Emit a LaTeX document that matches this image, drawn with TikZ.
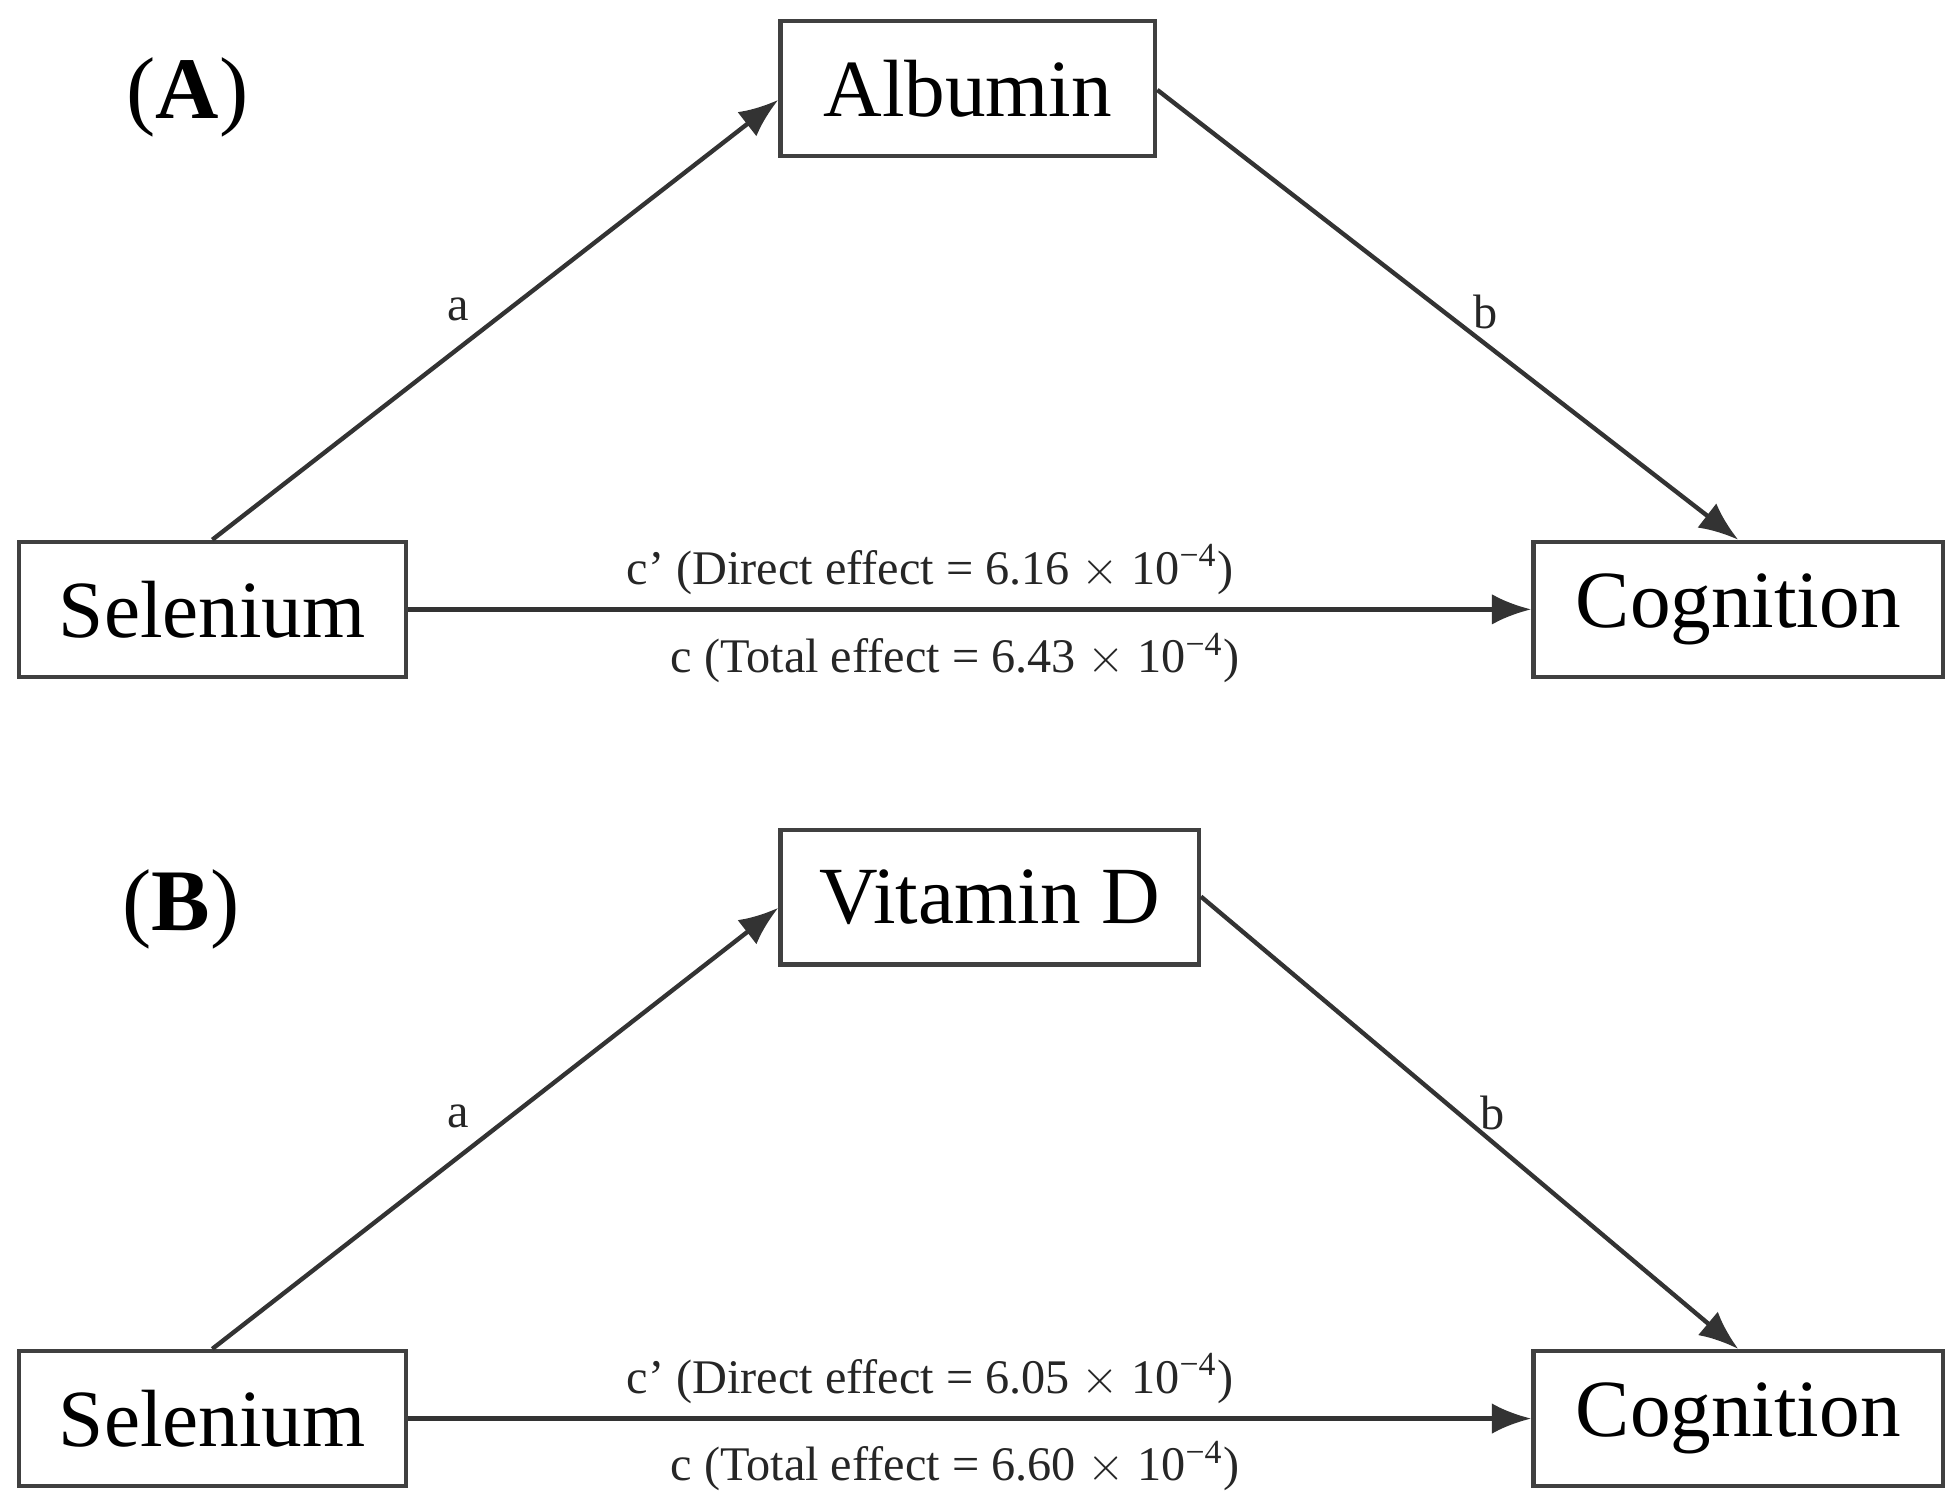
\documentclass[tikz,border=0pt]{standalone}
\usepackage{fontspec}
\setmainfont{Liberation Serif}
\usetikzlibrary{arrows.meta,positioning}
\tikzstyle{block} = [rectangle, draw=black!75, line width=1pt, minimum height=1.08cm,
    inner sep=0pt, font=\fontsize{18.5}{20}\selectfont]
\tikzstyle{line} = [draw=black!80, line width=1pt, -{Latex[length=9pt,width=7pt]}]
\tikzstyle{lbl} = [font=\fontsize{11}{12}\selectfont, text=black!85]
\tikzstyle{panel} = [font=\fontsize{20}{22}\selectfont]
\begin{document}
\begin{tikzpicture}
    \useasboundingbox (0,0) rectangle (15.68,12.03);
    % Panel A
    \node [panel] at (1.5,11.25) (labA) {(\textbf{A})};
    \node [block, minimum width=3.0cm] at (7.75,11.32) (albumin) {Albumin};
    \node [block, minimum width=3.1cm] at (1.70,7.15) (selA) {Selenium};
    \node [block, minimum width=3.28cm] at (13.92,7.15) (cogA) {Cognition};

    % Panel B
    \node [panel] at (1.45,4.75) (labB) {(\textbf{B})};
    \node [block, minimum width=3.35cm] at (7.925,4.845) (vitd) {Vitamin D};
    \node [block, minimum width=3.1cm] at (1.70,0.67) (selB) {Selenium};
    \node [block, minimum width=3.28cm] at (13.92,0.67) (cogB) {Cognition};

    % Draw edges A
    \path [line] (selA.north) -- (albumin.west |- 0,11.23);
    \path [line] (albumin.east |- 0,11.31) -- (cogA.north);
    \path [line] (selA) -- (cogA);
    \node [lbl] at (3.67,9.55) {a};
    \node [lbl] at (11.90,9.53) {b};
    \node [lbl] at (7.45,7.47) {c’ (Direct effect = 6.16 $\times$ 10\textsuperscript{−4})};
    \node [lbl] at (7.65,6.76) {c (Total effect = 6.43 $\times$ 10\textsuperscript{−4})};

    % Draw edges B
    \path [line] (selB.north) -- (vitd.west |- 0,4.76);
    \path [line] (vitd.east |- 0,4.85) -- (cogB.north);
    \path [line] (selB) -- (cogB);
    \node [lbl] at (3.67,3.09) {a};
    \node [lbl] at (11.95,3.12) {b};
    \node [lbl] at (7.45,0.99) {c’ (Direct effect = 6.05 $\times$ 10\textsuperscript{−4})};
    \node [lbl] at (7.65,0.29) {c (Total effect = 6.60 $\times$ 10\textsuperscript{−4})};
\end{tikzpicture}
\end{document}
